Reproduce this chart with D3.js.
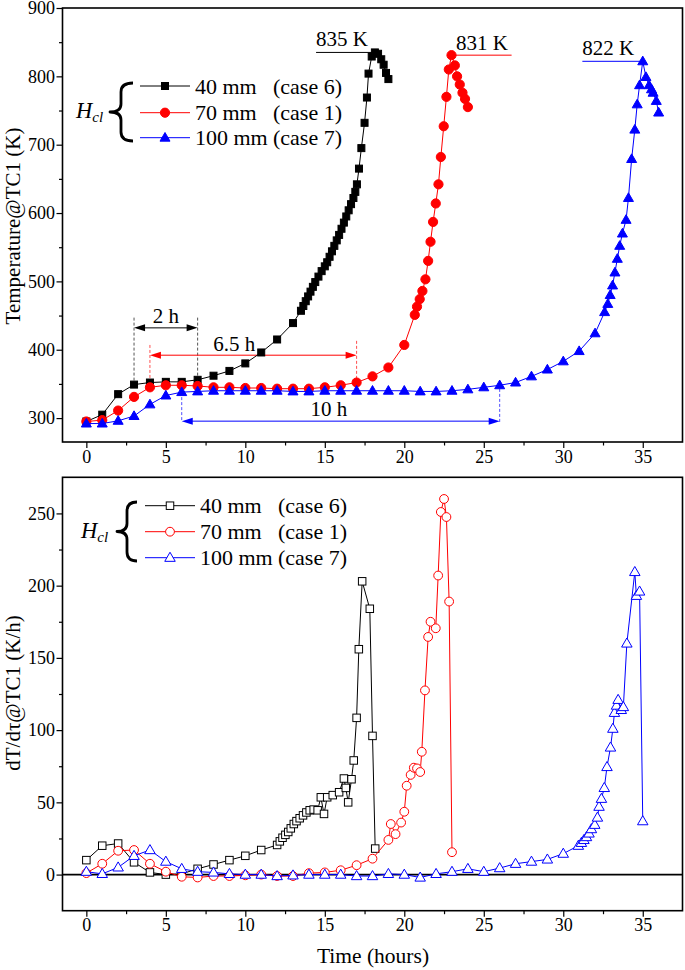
<!DOCTYPE html>
<html><head><meta charset="utf-8">
<script src="https://cdn.jsdelivr.net/npm/d3@7"></script>
<style>
body{margin:0;background:#fff}
svg{display:block}
text{font-family:"Liberation Serif","Times New Roman",serif;fill:#000}
</style>
</head><body>
<svg id="c" width="685" height="970"></svg>
<script>
// ---------------- data ----------------
const seriesNames = ["40 mm", "70 mm", "100 mm"];
const caseLabels = ["(case 6)", "(case 1)", "(case 7)"];
const seriesColors = ["#000000", "#ff0000", "#0000ff"];
const xTicks = [0, 5, 10, 15, 20, 25, 30, 35];
const tempTicks = [300, 400, 500, 600, 700, 800, 900];
const rateTicks = [0, 50, 100, 150, 200, 250];

// Temperature@TC1 (K) vs time (h)
const temp40 = [[0,295],[1,305],[2,335],[3,349],[4,352],[5,353],[6,353],[7,356],[8,362],[9,369],[10,380],[11,396],[12,415],[13,439],
  [13.5,457],[13.65,464],[13.8,471],[13.95,478],[14.1,485],[14.25,492],[14.4,499],[14.6,507],[14.8,515],[15.0,522],[15.15,528],
  [15.3,536],[15.45,544],[15.6,552],[15.75,560],[15.9,568],[16.05,577],[16.2,586],[16.35,595],[16.5,604],[16.65,613],[16.8,622],
  [16.92,631],[17.02,642],[17.15,665],[17.3,695],[17.5,732],[17.65,769],[17.75,804],[17.95,829],[18.15,835],[18.35,833],[18.55,825],
  [18.7,817],[18.85,805],[19.0,796]];
const temp70 = [[0,295],[1,297],[2,311],[3,331],[4,345],[5,348],[6,348],[7,347],[8,345],[9,345],[10,344],[11,344],[12,343],[13,343],
  [14,343],[15,345],[16,348],[17,352],[18,361],[19,374],[20,407],[20.66,451],[20.8,463],[20.97,474],[21.14,486],[21.33,503],[21.5,530],
  [21.65,558],[21.81,587],[21.98,614],[22.15,642],[22.3,682],[22.48,727],[22.65,770],[22.8,810],[22.97,831],[23.18,816],[23.32,800],
  [23.49,788],[23.66,776],[23.82,767],[24.0,755]];
const temp100 = [[0,292],[1,292],[2,296],[3,303],[4,320],[5,333],[6,338],[7,339],[8,340],[9,340],[10,340],[11,340],[12,340],[13,339],
  [14,339],[15,340],[16,340],[17,340],[18,340],[19,340],[20,340],[21,339],[22,339],[23,340],[24,342],[25,345],[26,348],[27,352],[28,361],
  [29,371],[30,383],[31,398],[32,424],[32.6,455],[32.8,467],[32.95,480],[33.1,494],[33.25,513],[33.4,533],[33.55,552],[33.72,570],
  [33.95,590],[34.1,622],[34.3,679],[34.5,722],[34.65,759],[34.8,787],[35.0,822],[35.2,799],[35.4,787],[35.55,781],[35.65,776],
  [35.85,764],[36.0,747]];

// dT/dtau@TC1 (K/h) vs time (h)
const rate40 = [[0,10],[1,20],[2,21.5],[3,8.5],[4,1.5],[5,0],[6,0.5],[7,4],[8,7],[9,10],[10,13],[11,17],[12,20.5],[12.17,23],
  [12.34,25.5],[12.52,27.5],[12.7,29.5],[12.86,32],[13.05,35],[13.22,37],[13.42,39],[13.63,41],[13.84,43],[14.05,44.5],[14.3,45],
  [14.55,44.5],[14.75,53.5],[14.95,42],[15.15,53.5],[15.5,55],[15.9,57],[16.2,66.5],[16.32,60],[16.47,50],[16.68,66],[16.82,79],
  [17.0,108.5],[17.14,156],[17.35,203],[17.83,184],[18.0,96],[18.17,18]];
const rate70 = [[0,1],[1,7.5],[2,16.5],[3,17],[4,7.5],[5,2],[6,-1.5],[7,-2],[8,-1],[9,-1],[10,-0.5],[11,0],[12,-1],[13,-1],[14,1],
  [15,1.5],[16,3],[17,6.5],[18,11],[19,24],[19.15,35],[19.45,28],[19.8,36],[20.0,43.5],[20.15,61.5],[20.4,69],[20.6,74],[20.8,73.5],
  [21.0,71],[21.1,85],[21.3,127.5],[21.5,164.5],[21.65,175],[21.98,170.5],[22.13,207],[22.3,251],[22.5,260],[22.65,247.5],[22.82,189],
  [23.0,15.5]];
const rate100 = [[0,2],[1,0.5],[2,5],[3,13],[4,17],[5,9],[6,4],[7,2],[8,1.5],[9,0.5],[10,0],[11,0],[12,-1],[13,-0.5],[14,0],[15,0],
  [16,0],[17,-1],[18,-1],[19,0.5],[20,0],[21,-2],[22,0.5],[23,2],[24,4],[25,2],[26,4.5],[27,7.5],[28,9],[29,10.5],[30,14.5],[30.95,20],
  [31.14,22],[31.3,24],[31.46,26],[31.62,28.5],[31.77,31.5],[31.98,34.5],[32.15,39.5],[32.25,47],[32.4,52.5],[32.58,60],[32.75,74.5],
  [32.97,88],[33.12,101],[33.22,112],[33.35,117],[33.45,121],[33.65,114],[33.78,116],[34.0,160],[34.5,209.5],[34.6,193],[34.8,196],
  [35.0,37]];

// annotations
const peakLabels = ["835 K", "831 K", "822 K"];
const peakValues = [835, 831, 822];
const delayLabels = ["2 h", "6.5 h", "10 h"];
const delayStart = [3, 4, 6];
const delayEnd = [7, 17, 26];

// ---------------- drawing ----------------
const svg = d3.select("#c");
const L = 62.5, R = 682.5;
const x = d3.scaleLinear().domain([-1.5, 37.5]).range([L, R]);
const yT = d3.scaleLinear().domain([265, 900]).range([442, 8]);
const yR = d3.scaleLinear().domain([-25, 275]).range([910.7, 477.3]);

function drawAxes(y, yTickVals, yMinor, top, bottom) {
  const gx = svg.append("g").attr("transform", `translate(0,${bottom})`)
    .call(d3.axisBottom(x).tickValues(xTicks).tickSize(6).tickPadding(2).tickFormat(d3.format("d")));
  const gxm = svg.append("g").attr("transform", `translate(0,${bottom})`)
    .call(d3.axisBottom(x).tickValues(d3.range(2.5, 37, 5)).tickSize(3.5).tickFormat(""));
  const gy = svg.append("g").attr("transform", `translate(${L},0)`)
    .call(d3.axisLeft(y).tickValues(yTickVals).tickSize(6).tickPadding(1.5).tickFormat(d3.format("d")));
  const gym = svg.append("g").attr("transform", `translate(${L},0)`)
    .call(d3.axisLeft(y).tickValues(yMinor).tickSize(3.5).tickFormat(""));
  [gx, gxm, gy, gym].forEach(g => {
    g.select(".domain").remove();
    g.selectAll("line").attr("stroke", "#000").attr("stroke-width", 1.2);
    g.selectAll("text").style("font-size", "18px").attr("font-family", null);
  });
  svg.append("rect").attr("x", L).attr("y", top).attr("width", R - L).attr("height", bottom - top)
    .attr("fill", "none").attr("stroke", "#000").attr("stroke-width", 1.6);
}

drawAxes(yT, tempTicks, d3.range(350, 900, 100), 8, 442);
drawAxes(yR, rateTicks, d3.range(-25, 275, 50).filter(v => v > -25), 477.3, 910.7);

// marker helpers
function triPath(s) {
  const h = s * 0.866;
  return `M0,${-h * 0.6}L${s / 2},${h * 0.4}L${-s / 2},${h * 0.4}Z`;
}
function marker(g, kind, cx, cy, color, filled) {
  const fill = filled ? color : "#fff";
  if (kind === 0) {
    const s = filled ? 7 : 7.5;
    g.append("rect").attr("x", cx - s / 2).attr("y", cy - s / 2).attr("width", s).attr("height", s)
      .attr("fill", fill).attr("stroke", color).attr("stroke-width", 1);
  } else if (kind === 1) {
    g.append("circle").attr("cx", cx).attr("cy", cy).attr("r", filled ? 4.6 : 4.4)
      .attr("fill", fill).attr("stroke", color).attr("stroke-width", 1);
  } else {
    g.append("path").attr("d", triPath(filled ? 10 : 10.5)).attr("transform", `translate(${cx},${cy})`)
      .attr("fill", fill).attr("stroke", color).attr("stroke-width", 1);
  }
}

function drawSeries(data, y, k, filled) {
  const g = svg.append("g");
  const line = d3.line().x(d => x(d[0])).y(d => y(d[1]));
  g.append("path").datum(data).attr("d", line).attr("fill", "none")
    .attr("stroke", seriesColors[k]).attr("stroke-width", 1);
  data.forEach(d => marker(g, k, x(d[0]), y(d[1]), seriesColors[k], filled));
}

// ----- top panel annotations (under data) -----
const ann = svg.append("g");
function arrowHead(g, xTip, yy, dir, color) {
  const len = 11, hw = 3.5;
  g.append("path").attr("d", `M${xTip},${yy}L${xTip + dir * len},${yy - hw}L${xTip + dir * len},${yy + hw}Z`).attr("fill", color);
}
const delayY = [432, 392, 295.5];
const delayDashTop = [[447, 447], [407, 413], [338, 350]];
const delayDashBot = [[355, 355], [350, 353], [294, 294]];
const delayTextX = [5, 9.3, 15.25];
const delayTextY = [438.5, 398.5, 303];
const dashColors = ["#555", "#ff5050", "#5050ff"];
delayLabels.forEach((lab, i) => {
  const col = seriesColors[i];
  [delayStart[i], delayEnd[i]].forEach((h, j) => {
    ann.append("line").attr("x1", x(h)).attr("x2", x(h))
      .attr("y1", yT(delayDashTop[i][j])).attr("y2", yT(delayDashBot[i][j]))
      .attr("stroke", dashColors[i]).attr("stroke-width", 1).attr("stroke-dasharray", "3,2");
  });
  const yy = yT(delayY[i]);
  ann.append("line").attr("x1", x(delayStart[i]) + 4).attr("x2", x(delayEnd[i]) - 4)
    .attr("y1", yy).attr("y2", yy).attr("stroke", col).attr("stroke-width", 1);
  arrowHead(ann, x(delayStart[i]), yy, 1, col);
  arrowHead(ann, x(delayEnd[i]), yy, -1, col);
  ann.append("text").attr("x", x(delayTextX[i])).attr("y", yT(delayTextY[i])).attr("text-anchor", "middle")
    .style("font-size", "21px").text(lab);
});

// peak labels
const peakLineFrom = [14.45, 22.97, 31.2];
const peakLineTo = [18.15, 26.75, 35.0];
const peakTextX = [14.45, 23.25, 31.2];
const peakTextDy = [-6.5, -5.5, -6.5];
peakLabels.forEach((lab, i) => {
  const yy = yT(peakValues[i]);
  ann.append("line").attr("x1", x(peakLineFrom[i])).attr("x2", x(peakLineTo[i])).attr("y1", yy).attr("y2", yy)
    .attr("stroke", seriesColors[i]).attr("stroke-width", 1);
  ann.append("text").attr("x", x(peakTextX[i])).attr("y", yy + peakTextDy[i]).style("font-size", "21px").text(lab);
});

// ----- series -----
drawSeries(temp40, yT, 0, true);
drawSeries(temp70, yT, 1, true);
drawSeries(temp100, yT, 2, true);

// zero reference line (bottom)
svg.append("line").attr("x1", L).attr("x2", R).attr("y1", yR(0)).attr("y2", yR(0))
  .attr("stroke", "#000").attr("stroke-width", 1.8);
drawSeries(rate40, yR, 0, false);
drawSeries(rate70, yR, 1, false);
drawSeries(rate100, yR, 2, false);

// ----- legends -----
function brace(g, xTip, xm, xr, yTop, yBot) {
  const yMid = (yTop + yBot) / 2;
  const p = `M${xr},${yTop} Q${xm},${yTop} ${xm},${yTop + 9} L${xm},${yMid - 8} Q${xm},${yMid} ${xTip},${yMid}` +
            ` Q${xm},${yMid} ${xm},${yMid + 8} L${xm},${yBot - 9} Q${xm},${yBot} ${xr},${yBot}`;
  g.append("path").attr("d", p).attr("fill", "none").attr("stroke", "#000").attr("stroke-width", 2.8)
    .attr("stroke-linejoin", "round");
}
function legend(rows, x0, x1, xText, xCase, filled, hx, hy, br) {
  const g = svg.append("g");
  seriesNames.forEach((name, i) => {
    const yy = rows[i];
    g.append("line").attr("x1", x0).attr("x2", x1).attr("y1", yy).attr("y2", yy)
      .attr("stroke", seriesColors[i]).attr("stroke-width", 1);
    marker(g, i, (x0 + x1) / 2, yy, seriesColors[i], filled);
    g.append("text").attr("x", xText).attr("y", yy + 7.5).style("font-size", "22px").text(name);
    g.append("text").attr("x", xCase).attr("y", yy + 7.5).style("font-size", "22px").text(caseLabels[i]);
  });
  const t = g.append("text").attr("x", hx).attr("y", hy).style("font-size", "22.5px").style("font-style", "italic");
  t.append("tspan").text("H");
  t.append("tspan").attr("dy", 4).style("font-size", "15px").text("cl");
  brace(g, br[0], br[1], br[2], br[3], br[4]);
}
legend([86, 112.7, 137.7], 140, 190, 195, 273, true, 76, 118, [110, 121, 133, 83, 141]);
legend([505.7, 531.7, 557.7], 145, 195, 200, 278, false, 81, 538, [117, 127, 137, 502, 561]);

// ----- axis titles -----
svg.append("text").attr("transform", "translate(20,226) rotate(-90)").attr("text-anchor", "middle")
  .style("font-size", "21px").text("Temperature@TC1 (K)");
svg.append("text").attr("transform", "translate(20,693) rotate(-90)").attr("text-anchor", "middle")
  .style("font-size", "21px").text("dT/dτ@TC1 (K/h)");
svg.append("text").attr("x", 373).attr("y", 963).attr("text-anchor", "middle")
  .style("font-size", "21.5px").text("Time (hours)");
</script>
</body></html>
